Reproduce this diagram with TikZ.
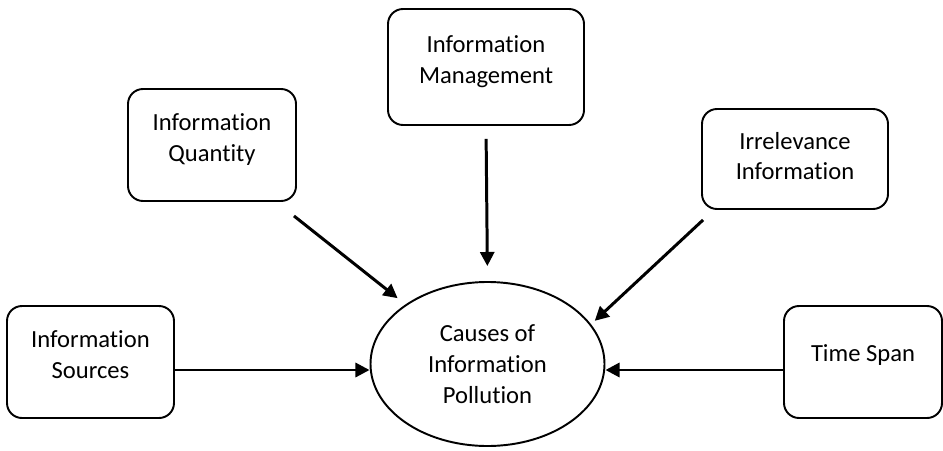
\documentclass[tikz,border=0pt]{standalone}
\usepackage{fontspec}
\setmainfont[Ligatures={NoCommon}]{Carlito}
\usetikzlibrary{positioning, arrows.meta, shapes.geometric}

\begin{document}
\begin{tikzpicture}[
    box/.style={draw, line width=1.1pt, rounded corners=0.3cm, align=center, font=\fontsize{14}{17.6}\selectfont},
    freccia/.style={line width=1.7pt, -{Triangle[length=8pt, width=8pt]}}
]
    \useasboundingbox (0,0) rectangle (18.86,9);

    % Nodo centrale
    \node[draw, ellipse, line width=1.1pt, minimum width=4.68cm, minimum height=3.28cm, inner sep=0pt,
          align=center, font=\fontsize{14}{17.6}\selectfont] (causes) at (9.75,1.72) {Causes of\\Information\\Pollution};

    % Cause intorno
    \node[box, minimum width=3.92cm, minimum height=2.32cm, text depth=8.5pt] (management) at (9.72,7.66) {Information\\Management};
    \node[box, minimum width=3.36cm, minimum height=2.24cm, text depth=9pt] (quantity) at (4.24,6.1) {Information\\Quantity};
    \node[box, minimum width=3.72cm, minimum height=2.0cm, text depth=3.5pt] (irrelevance) at (15.9,5.82) {Irrelevance\\Information};
    \node[box, minimum width=3.34cm, minimum height=2.24cm, text depth=8.5pt] (sources) at (1.81,1.76) {Information\\Sources};
    \node[box, minimum width=3.16cm, minimum height=2.24cm, text depth=10.5pt] (timespan) at (17.26,1.76) {Time Span};

    % Frecce verso il centro
    \draw[freccia, shorten <=0.26cm, shorten >=0.3cm] (management.south) -- (causes.north);
    \draw[freccia, shorten >=0.2cm] ([xshift=-0.06cm, yshift=-0.28cm]quantity.south east) -- (causes.144);
    \draw[freccia, shorten >=0.1cm] ([xshift=0.04cm, yshift=-0.2cm]irrelevance.south west) -- (causes.21);
    \draw[freccia] ([yshift=-0.16cm]sources.east) -- ([yshift=-0.16cm]sources.east -| causes.west);
    \draw[freccia] ([yshift=-0.16cm]timespan.west) -- ([yshift=-0.16cm]timespan.west -| causes.east);
\end{tikzpicture}
\end{document}
